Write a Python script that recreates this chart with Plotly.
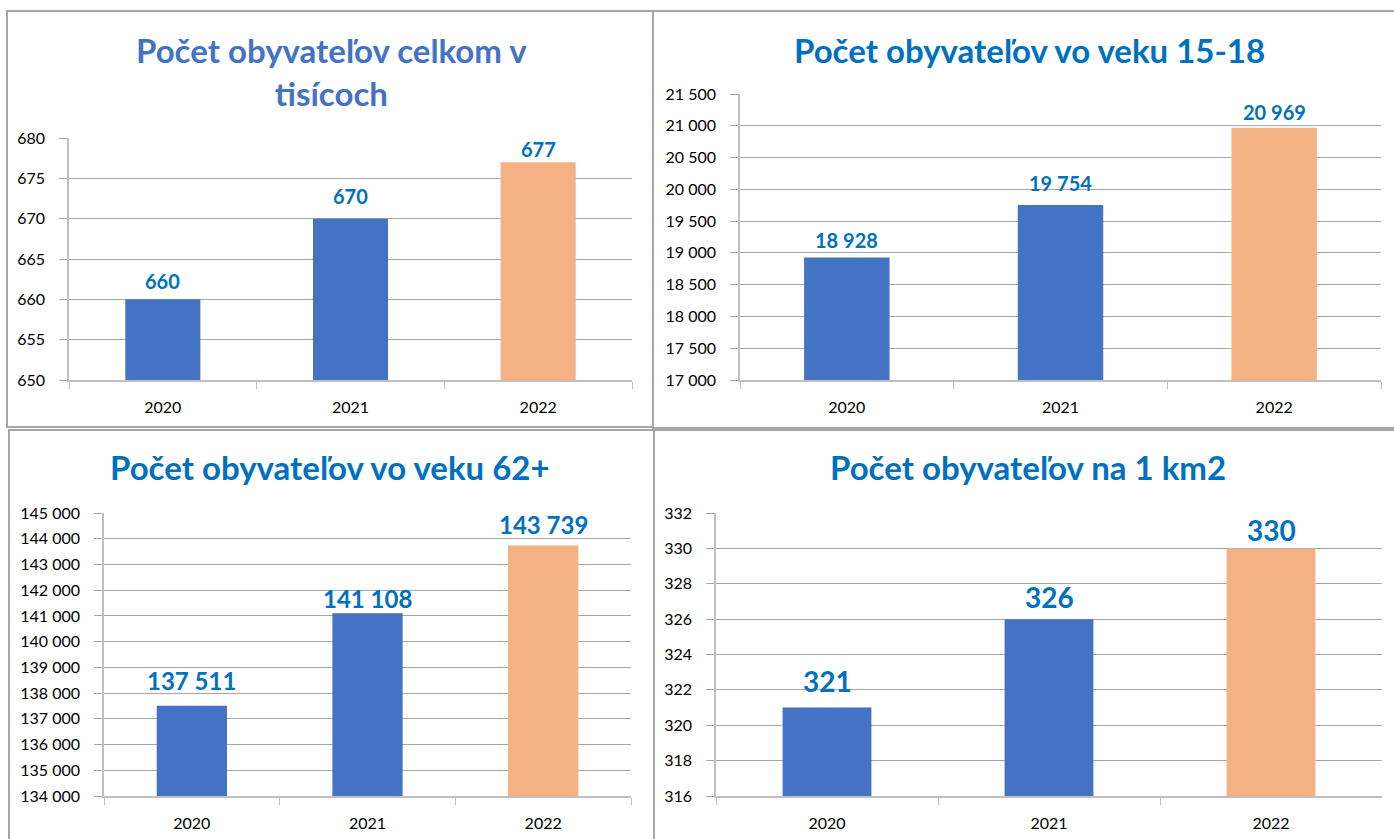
import plotly.graph_objects as go

W, H = 1394, 839

years = ["2020", "2021", "2022"]
bar_colors = ["#4472C4", "#4472C4", "#F4B183"]

titles = [
    "Počet obyvateľov celkom v<br>tisícoch",
    "Počet obyvateľov vo veku 15-18",
    "Počet obyvateľov vo veku 62+",
    "Počet obyvateľov na 1 km2",
]
total_thousands = [660, 670, 677]
age_15_18 = [18928, 19754, 20969]
age_62_plus = [137511, 141108, 143739]
per_km2 = [321, 326, 330]

y_ranges = [(650, 680), (17000, 21500), (134000, 145000), (316, 332)]
y_dticks = [5, 500, 1000, 2]

# layout (pixels)
panels = [
    dict(x=(69, 632), y=(138, 380), bw=0.40, lbl=20, lshift=[4, 9, -1], title_y=71, title_x=331, title_color="#4472C4", tsize=33),
    dict(x=(740, 1381), y=(94, 380), bw=0.40, lbl=20, lshift=[3, 8, 2], title_y=50, title_x=1029, title_color="#0070C0", tsize=33),
    dict(x=(104, 631), y=(513, 796), bw=0.40, lbl=24, lshift=[9, -2, 4], title_y=467, title_x=330, title_color="#0070C0", tsize=33),
    dict(x=(716, 1382), y=(513, 796), bw=0.40, lbl=28, lshift=[8, 3, -1], title_y=467, title_x=1028, title_color="#0070C0", tsize=33),
]
series = [total_thousands, age_15_18, age_62_plus, per_km2]

FONT = "Lato"

def fmt(v):
    return f"{v:,}".replace(",", " ")

fig = go.Figure()
annotations = []
shapes = []
for i, (p, vals) in enumerate(zip(panels, series)):
    n = i + 1
    xa = "x" if n == 1 else f"x{n}"
    ya = "y" if n == 1 else f"y{n}"
    fig.add_trace(go.Bar(
        x=years, y=vals, xaxis=xa, yaxis=ya,
        marker=dict(color=bar_colors, line=dict(width=0)),
        width=p["bw"], showlegend=False, hoverinfo="x+y",
    ))
    for k, v in enumerate(vals):
        annotations.append(dict(
            x=k, y=v, xref=xa, yref=ya, text=f"<b>{fmt(v)}</b>",
            showarrow=False, yanchor="bottom", yshift=p["lshift"][k],
            font=dict(family=FONT, size=p["lbl"], color="#0070C0"),
        ))
    annotations.append(dict(
        x=p["title_x"] / W, y=1 - p["title_y"] / H, xref="paper", yref="paper",
        text=f"<b>{titles[i]}</b>", showarrow=False, xanchor="center", yanchor="middle",
        font=dict(family=FONT, size=p["tsize"], color=p["title_color"]),
        align="center",
    ))
    xkey = "xaxis" if n == 1 else f"xaxis{n}"
    ykey = "yaxis" if n == 1 else f"yaxis{n}"
    fig.update_layout(**{
        xkey: dict(
            domain=[p["x"][0] / W, p["x"][1] / W], anchor=ya,
            type="category", range=[-0.5, 2.5], automargin=False,
            showline=True, linecolor="#BFBFBF", linewidth=1.5,
            ticks="outside", tickson="boundaries", ticklen=7, tickcolor="#BFBFBF",
            tickfont=dict(family=FONT, size=16, color="#000000"),
            ticklabelstandoff=12, showgrid=False, fixedrange=True, tickangle=0,
        ),
        ykey: dict(
            domain=[1 - p["y"][1] / H, 1 - p["y"][0] / H], anchor=xa,
            range=list(y_ranges[i]), dtick=y_dticks[i], tick0=y_ranges[i][0],
            automargin=False,
            showline=True, linecolor="#BFBFBF", linewidth=1.5,
            showgrid=True, gridcolor="#A6A6A6", gridwidth=1,
            ticks="outside", ticklen=8, tickcolor="#A6A6A6",
            tickformat=",d", tickfont=dict(family=FONT, size=16, color="#000000"),
            ticklabelstandoff=11, zeroline=False, fixedrange=True,
        ),
    })

# panel borders
borders = [(7, 11, 653, 427), (653, 11, 1400, 428), (9, 430, 654, 845), (654, 430, 1400, 845)]
for x0, y0, x1, y1 in borders:
    shapes.append(dict(type="rect", xref="paper", yref="paper",
                       x0=x0 / W, x1=x1 / W, y0=1 - y0 / H, y1=1 - y1 / H,
                       line=dict(color="#A6A6A6", width=2), fillcolor="rgba(0,0,0,0)", layer="below"))

fig.update_layout(
    width=W, height=H, margin=dict(l=0, r=0, t=0, b=0, autoexpand=False),
    paper_bgcolor="white", plot_bgcolor="white",
    separators=". ", annotations=annotations, shapes=shapes,
    font=dict(family=FONT),
)

fig.write_html("out.html", config={"displayModeBar": False})

# remove the browser's default page margin so the figure sits at (0, 0)
with open("out.html", encoding="utf-8") as f:
    html = f.read()
html = html.replace("<body>", '<body style="margin:0;padding:0;overflow:hidden">', 1)
with open("out.html", "w", encoding="utf-8") as f:
    f.write(html)
